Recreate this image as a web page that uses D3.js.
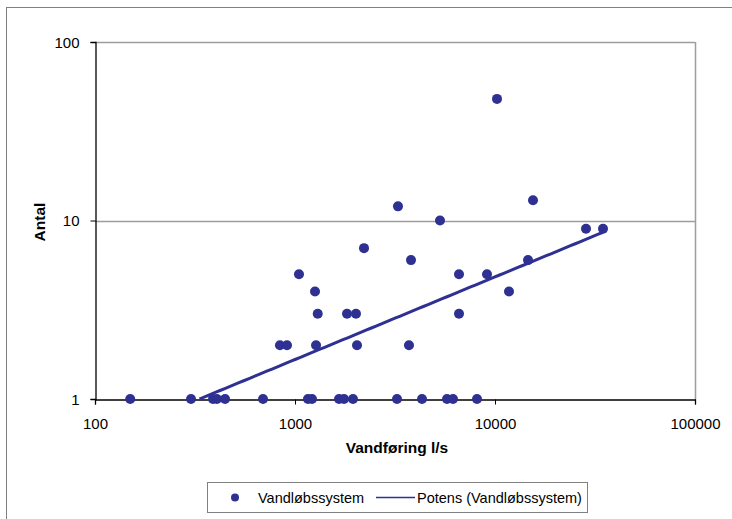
<!DOCTYPE html>
<html>
<head>
<meta charset="utf-8">
<script src="https://cdn.jsdelivr.net/npm/d3@7"></script>
<style>
  html, body { margin: 0; padding: 0; background: #fff; }
  svg { display: block; font-family: "Liberation Sans", Arial, sans-serif; }
</style>
</head>
<body>
<svg id="chart" width="732" height="519"></svg>
<script>
// Data
const flow = [150, 302, 389, 407, 447, 692, 1161, 1216, 1660, 1758, 1950, 3236, 4315, 5754, 6166, 8128,
              841, 912, 1274, 2042, 3715,
              1299, 1820, 2018, 6607,
              1259, 11749,
              1047, 6607, 9120,
              3802, 14622,
              2213,
              28510, 34674,
              5309, 3273, 15488, 10233];
const count = [1, 1, 1, 1, 1, 1, 1, 1, 1, 1, 1, 1, 1, 1, 1, 1,
               2, 2, 2, 2, 2,
               3, 3, 3, 3,
               4, 4,
               5, 5, 5,
               6, 6,
               7,
               9, 9,
               10, 12, 13, 48];
const xTicks = [100, 1000, 10000, 100000];
const yTicks = [1, 10, 100];
const seriesName = "Vandløbssystem";
const trendName = "Potens (Vandløbssystem)";
const xTitle = "Vandføring l/s";
const yTitle = "Antal";

const points = flow.map((f, i) => ({ x: f, y: count[i] }));

const svg = d3.select("#chart");
const plot = { left: 95, top: 42, right: 695, bottom: 399 };
const blue = "#2e3192";

// outer chart border (cut off at right/bottom as in reference)
svg.append("rect").attr("x", 6.5).attr("y", 7.5).attr("width", 740).attr("height", 540)
  .attr("fill", "none").attr("stroke", "#808080").attr("stroke-width", 1);

const x = d3.scaleLog().domain([100, 100000]).range([plot.left, plot.right]);
const y = d3.scaleLog().domain([1, 100]).range([plot.bottom, plot.top]);

// gridlines
svg.append("g").selectAll("line").data(yTicks.filter(v => v > 1)).join("line")
  .attr("x1", plot.left).attr("x2", plot.right)
  .attr("y1", d => Math.round(y(d)) + 0.5).attr("y2", d => Math.round(y(d)) + 0.5)
  .attr("stroke", "#a09c9c").attr("stroke-width", 1.5);

// right border of plot area
svg.append("line").attr("x1", plot.right + 0.5).attr("x2", plot.right + 0.5)
  .attr("y1", plot.top).attr("y2", plot.bottom)
  .attr("stroke", "#a09c9c").attr("stroke-width", 1.5);

// axes
const xAxis = d3.axisBottom(x).tickValues(xTicks).tickFormat(d3.format("d")).tickSizeOuter(0).tickSize(5).tickPadding(14);
const yAxis = d3.axisLeft(y).tickValues(yTicks).tickFormat(d3.format("d")).tickSizeOuter(0).tickSize(5).tickPadding(11);

const gx = svg.append("g").attr("transform", `translate(0,${plot.bottom + 0.5})`).call(xAxis);
const gy = svg.append("g").attr("transform", `translate(${plot.left + 0.5},0)`).call(yAxis);
[gx, gy].forEach(g => {
  g.select(".domain").attr("stroke", "#000").attr("stroke-width", 1.3);
  g.selectAll(".tick line").attr("stroke", "#000").attr("stroke-width", 1);
  g.selectAll(".tick text").attr("fill", "#000").style("font-size", "15px")
    .style("font-family", "'Liberation Sans', Arial, sans-serif");
});
gy.selectAll(".tick text").attr("dy", "0.35em");

// clip for trendline
svg.append("clipPath").attr("id", "clip").append("rect")
  .attr("x", plot.left).attr("y", plot.top)
  .attr("width", plot.right - plot.left).attr("height", plot.bottom - plot.top);

// Power trendline: least squares in log-log space
const lx = points.map(p => Math.log(p.x)), ly = points.map(p => Math.log(p.y));
const mx = d3.mean(lx), my = d3.mean(ly);
const b = d3.sum(lx.map((v, i) => (v - mx) * (ly[i] - my))) / d3.sum(lx.map(v => (v - mx) ** 2));
const a = Math.exp(my - b * mx);
const [xmin, xmax] = d3.extent(flow);
const trend = d3.range(0, 101).map(i => {
  const xv = Math.exp(Math.log(xmin) + (Math.log(xmax) - Math.log(xmin)) * i / 100);
  return { x: xv, y: a * Math.pow(xv, b) };
}).filter(p => p.y >= 1);
const start = { x: Math.pow(1 / a, 1 / b), y: 1 };
if (start.x > xmin) trend.unshift(start);

svg.append("path").datum(trend)
  .attr("clip-path", "url(#clip)")
  .attr("fill", "none").attr("stroke", blue).attr("stroke-width", 3)
  .attr("d", d3.line().x(d => x(d.x)).y(d => y(d.y)));

// points
svg.append("g").selectAll("circle").data(points).join("circle")
  .attr("cx", d => x(d.x)).attr("cy", d => y(d.y)).attr("r", 5)
  .attr("fill", blue);

// axis titles
svg.append("text").attr("x", 397).attr("y", 453).attr("text-anchor", "middle")
  .style("font-size", "15.5px").style("font-weight", "bold").text(xTitle);
svg.append("text").attr("transform", "translate(45,222) rotate(-90)").attr("text-anchor", "middle")
  .style("font-size", "15.5px").style("font-weight", "bold").text(yTitle);

// legend
const lg = svg.append("g");
lg.append("rect").attr("x", 207.5).attr("y", 482.5).attr("width", 380).attr("height", 30)
  .attr("fill", "#fff").attr("stroke", "#808080").attr("stroke-width", 1);
lg.append("circle").attr("cx", 235).attr("cy", 497.5).attr("r", 4).attr("fill", blue);
lg.append("text").attr("x", 258).attr("y", 502.5).style("font-size", "14.5px").text(seriesName);
lg.append("line").attr("x1", 376).attr("x2", 415).attr("y1", 497.5).attr("y2", 497.5)
  .attr("stroke", blue).attr("stroke-width", 1.5);
lg.append("text").attr("x", 417).attr("y", 502.5).style("font-size", "14.5px").text(trendName);
</script>
</body>
</html>
